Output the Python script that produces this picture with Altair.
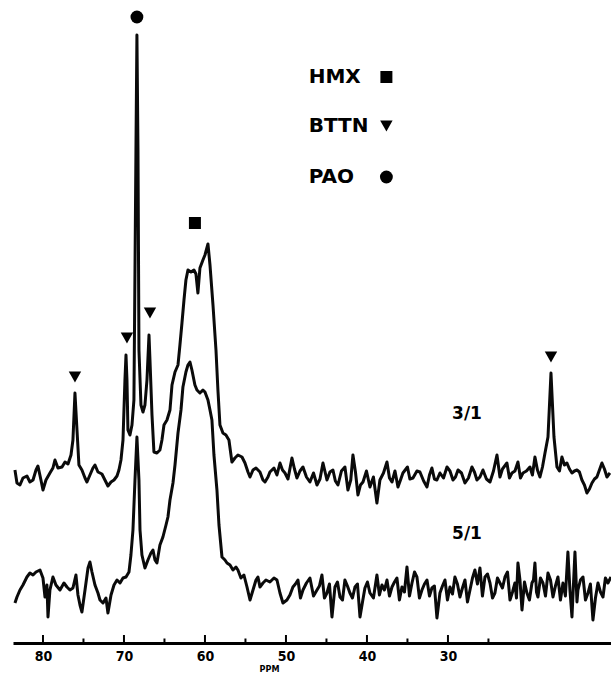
import altair as alt
import pandas as pd

# ---------------- data ----------------
# upper spectrum (3/1): chemical shift (ppm) and intensity relative to its baseline
UPPER_PPM = [83.46, 83.21, 82.84, 82.47, 81.98, 81.61, 81.23, 80.86, 80.62, 80.25, 80.00, 79.63, 79.14, 78.77,
             78.52, 78.15, 77.65, 77.28, 76.91, 76.54, 76.30, 76.05, 75.80, 75.56, 75.19, 74.81, 74.57, 74.20,
             73.83, 73.58, 73.21, 72.72, 72.35, 71.98, 71.60, 71.23, 70.86, 70.62, 70.37, 70.12, 69.88, 69.75,
             69.63, 69.51, 69.26, 69.01, 68.77, 68.52, 68.40, 68.27, 68.15, 67.90, 67.65, 67.41, 67.16, 66.91,
             66.79, 66.54, 66.30, 65.93, 65.56, 65.31, 65.06, 64.69, 64.32, 64.07, 63.70, 63.33, 63.09, 62.84,
             62.59, 62.35, 62.10, 61.73, 61.36, 61.11, 60.87, 60.62, 60.25, 60.00, 59.63, 59.38, 59.01, 58.64,
             58.40, 58.15, 57.78, 57.41, 57.04, 56.67, 56.30, 55.93, 55.43, 55.06, 54.69, 54.44, 54.07, 53.70,
             53.21, 52.84, 52.59, 51.98, 51.48, 50.74, 50.12, 49.26, 48.64, 47.90, 47.04, 46.17, 45.43, 44.94,
             44.20, 43.58, 42.72, 42.35, 41.73, 41.11, 40.49, 39.63, 38.77, 38.40, 37.53, 36.91, 36.17, 35.56,
             34.32, 33.46, 32.59, 31.98, 31.36, 30.99, 30.12, 29.38, 28.76, 27.90, 27.04, 26.42, 25.68, 24.81,
             23.95, 23.58, 22.72, 22.10, 21.36, 20.74, 19.88, 19.26, 18.64, 18.02, 17.65, 17.28, 16.91, 16.54,
             15.93, 15.31, 14.69, 14.07, 13.46, 12.84, 12.22, 11.61, 10.99, 10.37, 10.00,
             52.22, 51.11, 50.43, 49.75, 48.95, 48.27, 47.47, 46.60, 45.80, 44.57, 43.90, 43.15, 42.00, 41.42,
             40.80, 40.06, 39.20, 37.96, 37.22, 36.54, 35.86, 35.00, 34.70, 33.83, 33.00, 32.28, 31.67, 30.55,
             29.75, 29.07, 28.33, 27.47, 26.73, 26.05, 25.25, 24.38, 23.27, 22.41, 21.73, 21.05, 20.31, 19.57,
             18.95, 18.33, 16.23, 15.62, 15.00, 14.38, 13.77, 13.15, 12.53, 11.91, 11.30, 10.68]
UPPER_INT = [5, -8, -10, -3, -1, -7, -5, 5, 9, -5, -15, -5, 2, 7,
             15, 7, 8, 13, 11, 20, 35, 82, 45, 10, 5, -3, -7, 0,
             7, 10, 3, 1, -5, -11, -7, -5, -1, 5, 15, 35, 95, 120,
             95, 45, 40, 50, 75, 325, 440, 325, 125, 70, 63, 70, 95, 140,
             115, 60, 23, 22, 25, 35, 50, 55, 65, 90, 103, 110, 130, 152,
             175, 195, 205, 203, 205, 201, 182, 207, 215, 220, 231, 210, 170, 125,
             85, 50, 42, 40, 35, 13, 17, 20, 18, 12, 3, -2, 5, 7,
             3, -5, -7, 3, 7, 12, 2, 17, -3, 8, -7, -10, 12, -5,
             5, -10, 8, -15, 20, -20, -7, -12, -28, -5, 13, -7, -12, 2,
             -3, 3, -12, 7, -5, 2, 8, -5, 5, -8, 8, -5, 5, -7,
             20, -2, 12, 2, 13, 2, 8, 18, -2, 22, 38, 102, 38, 8,
             18, 12, 2, 5, -5, -18, -8, -2, 12, -2, 2,
             -2, 0, 5, -4, 6, 4, -2, 2, -4, 3, -6, 4, -5, 3,
             -10, 4, -2, 2, -3, 4, -5, 8, -4, 4, -6, 0, -4, -3,
             4, -2, 2, -3, 3, -2, -4, 4, 6, -3, 4, -3, 4, 0,
             5, 8, 4, 10, 6, 4, 3, -10, -14, -4, 5, 6]

# lower spectrum (5/1)
LOWER_PPM = [83.46, 83.21, 82.84, 82.47, 81.98, 81.61, 81.23, 80.86, 80.37, 80.00, 79.75, 79.51, 79.38, 79.14,
             78.77, 78.40, 77.90, 77.41, 77.04, 76.67, 76.30, 75.93, 75.68, 75.43, 75.19, 74.81, 74.44, 74.20,
             73.95, 73.58, 73.21, 72.96, 72.59, 72.22, 71.98, 71.60, 71.23, 70.86, 70.49, 70.12, 69.75, 69.38,
             69.14, 68.89, 68.64, 68.40, 68.15, 68.02, 67.78, 67.41, 67.04, 66.67, 66.42, 66.17, 65.93, 65.56,
             65.19, 64.81, 64.57, 64.32, 63.95, 63.70, 63.33, 62.96, 62.72, 62.35, 62.10, 61.85, 61.61, 61.24,
             60.99, 60.62, 60.25, 60.00, 59.63, 59.38, 59.14, 58.89, 58.52, 58.27, 57.90, 57.53, 57.28, 56.91,
             56.54, 56.17, 55.93, 55.56, 55.19, 54.81, 54.44, 54.07, 53.70, 53.46, 53.21, 52.84, 52.47, 51.98,
             51.48, 51.11, 50.74, 50.37, 49.88, 49.14, 48.52, 47.90, 47.04, 46.17, 45.56, 44.94, 44.32, 43.95,
             43.33, 42.72, 42.10, 41.48, 40.86, 40.25, 39.63, 38.77, 38.15, 37.53, 36.91, 36.30, 35.68, 35.06,
             34.44, 33.83, 33.21, 32.59, 31.98, 31.36, 30.99, 30.37, 29.75, 29.14, 28.52, 27.90, 27.28, 26.67,
             26.05, 25.43, 24.81, 24.20, 23.58, 22.96, 22.34, 21.73, 21.36, 20.86, 20.25, 19.63, 19.26, 18.89,
             18.27, 17.65, 17.03, 16.42, 15.80, 15.19, 14.94, 14.69, 14.32, 13.95, 13.33, 12.71, 12.10, 11.48,
             10.86, 10.25, 9.87,
             49.51, 48.83, 48.21, 47.47, 46.60, 45.87, 45.25, 44.63, 43.64, 43.02, 42.41, 41.79, 41.17, 40.55,
             39.94, 39.20, 38.46, 37.84, 37.22, 36.60, 35.99, 35.37, 34.75, 34.13, 33.52, 32.90, 32.28, 31.67,
             30.68, 30.06, 29.44, 28.83, 28.21, 27.59, 26.97, 26.36, 25.74, 25.12, 24.50, 23.89, 23.27, 22.65,
             22.03, 21.54, 21.11, 20.55, 19.94, 19.44, 19.07, 18.58, 17.96, 17.34, 16.73, 16.11, 15.50, 14.07,
             13.64, 13.02, 12.41, 11.79, 11.17, 10.56]
LOWER_INT = [-11, -5, 2, 7, 15, 19, 17, 20, 22, 14, -5, 7, -25, 2,
             15, 7, 2, 9, 5, 2, 4, 17, -3, -13, -20, 2, 24, 30,
             20, 7, -1, -8, -11, -6, -21, -3, 7, 12, 9, 14, 15, 20,
             37, 62, 112, 155, 112, 62, 37, 24, 32, 39, 42, 32, 29, 47,
             55, 67, 75, 92, 109, 127, 159, 182, 205, 220, 227, 230, 222, 207,
             202, 199, 202, 200, 192, 182, 172, 137, 102, 67, 35, 32, 29, 27,
             22, 25, 22, 14, 17, 5, -8, 2, 12, 15, 5, 9, 12, 10,
             14, 12, -1, -11, -8, 5, 12, 2, 14, 2, 17, -1, -25, 5,
             -5, 12, -1, 5, -25, 4, -1, 17, 7, 12, 5, 14, 5, 25,
             9, 15, 2, 12, 4, -26, -1, 12, 5, 15, -5, 12, 2, 22,
             24, 15, 9, -1, 9, 15, -8, 9, 29, -18, -1, 9, 29, -5,
             9, 19, -5, 15, 9, 40, 2, -25, 40, 2, 15, -1, -28, 9,
             -5, 9, 15,
             -3, 8, -6, 9, -4, 6, -6, 8, 10, -8, 6, -6, 8, -10,
             10, -6, -3, 2, -4, 10, -8, 0, -4, 20, -6, 8, -4, 6,
             6, -8, -2, 8, 4, -10, 14, 8, -4, 18, -6, 14, 4, 20,
             0, -6, 12, 10, -8, 12, 0, 14, -4, 12, 6, -8, -4, -10,
             12, -8, 8, -6, 0, 14]

TRACE_NAMES = ["3/1", "5/1"]

# assigned peaks
PEAK_PPM = [68.40, 61.24, 76.05, 69.63, 66.79, 17.28]
PEAK_COMPOUND = ["PAO", "HMX", "BTTN", "BTTN", "BTTN", "BTTN"]

LEGEND_ITEMS = ["HMX", "BTTN", "PAO"]
MAJOR_TICKS = [80, 70, 60, 50, 40, 30]
MINOR_TICKS = [75, 65, 55, 45, 35, 25]

# ---------------- layout constants ----------------
UPPER_OFFSET = 168
LOWER_OFFSET = 51
PEAK_LEVEL = [626, 420, 266, 305, 330, 286]
LEGEND_LEVEL = [566, 517, 466]
LEGEND_TEXT_PPM = 47.2
LEGEND_MARK_PPM = 37.6
TRACE_LABEL_PPM = 27.65
TRACE_LABEL_LEVEL = [229, 109]
TICK_LEN_MAJOR = 8.0
TICK_LEN_MINOR = 4.5

W, H = 598, 643
NARROW = "Liberation Sans Narrow, DejaVu Sans Condensed, Arial Narrow, sans-serif"

up = pd.DataFrame({"ppm": UPPER_PPM, "v": UPPER_INT}).sort_values("ppm")
up["h"] = up["v"] + UPPER_OFFSET
lo = pd.DataFrame({"ppm": LOWER_PPM, "v": LOWER_INT}).sort_values("ppm")
lo["h"] = lo["v"] + LOWER_OFFSET

peaks = pd.DataFrame({"ppm": PEAK_PPM, "h": PEAK_LEVEL, "c": PEAK_COMPOUND})
legend = pd.DataFrame({"c": LEGEND_ITEMS, "h": LEGEND_LEVEL,
                       "tx": [LEGEND_TEXT_PPM] * 3, "mx": [LEGEND_MARK_PPM] * 3})
labels = pd.DataFrame({"t": TRACE_NAMES, "ppm": [TRACE_LABEL_PPM] * 2, "h": TRACE_LABEL_LEVEL})
ticks = pd.DataFrame({"ppm": [float(t) for t in MAJOR_TICKS + MINOR_TICKS],
                      "h": [0.0] * 12,
                      "top": [TICK_LEN_MAJOR] * 6 + [TICK_LEN_MINOR] * 6})

xscale = alt.Scale(domain=[9.87, 83.7], reverse=True, nice=False, zero=False)
yscale = alt.Scale(domain=[0, H], nice=False, zero=False)
xaxis = alt.Axis(values=MAJOR_TICKS, ticks=False, grid=False, domainColor="black", domainWidth=3,
                 labelFont=NARROW, labelFontSize=14, labelFontWeight="bold", labelColor="black",
                 labelPadding=6, labelFlush=False, title="PPM", titleFont=NARROW, titleFontSize=9,
                 titleFontWeight="bold", titleColor="black", titleX=256, titleY=21,
                 titleBaseline="top", titleAlign="center")

X = alt.X("ppm:Q", scale=xscale, axis=xaxis)
Y = alt.Y("h:Q", scale=yscale, axis=None)

shape_scale = alt.Scale(domain=["HMX", "BTTN", "PAO"], range=["square", "triangle-down", "circle"])

l_up = alt.Chart(up).mark_line(color="#0a0a0a", strokeWidth=3, strokeJoin="round").encode(x=X, y=Y)
l_lo = alt.Chart(lo).mark_line(color="#0a0a0a", strokeWidth=3, strokeJoin="round").encode(x=X, y=Y)

pk = alt.Chart(peaks).mark_point(filled=True, color="black", opacity=1).encode(
    x=X, y=Y,
    shape=alt.Shape("c:N", scale=shape_scale, legend=None),
    size=alt.Size("c:N", scale=alt.Scale(domain=["HMX", "BTTN", "PAO"], range=[144, 165, 170]), legend=None),
)

tk = alt.Chart(ticks).mark_rule(color="black", strokeWidth=2, opacity=1).encode(
    x=X, y=Y, y2=alt.Y2("top:Q"))

lab = alt.Chart(labels).mark_text(font="DejaVu Sans", fontSize=17, fontWeight="bold",
                                  color="black", baseline="middle").encode(x=X, y=Y, text="t:N")

leg_t = alt.Chart(legend).mark_text(font="DejaVu Sans", fontSize=20, fontWeight="bold", color="black",
                                    align="left", baseline="middle").encode(
    x=alt.X("tx:Q", scale=xscale, axis=xaxis), y=Y, text="c:N")
leg_m = alt.Chart(legend).mark_point(filled=True, color="black", opacity=1).encode(
    x=alt.X("mx:Q", scale=xscale, axis=xaxis), y=Y,
    shape=alt.Shape("c:N", scale=shape_scale, legend=None),
    size=alt.Size("c:N", scale=alt.Scale(domain=["HMX", "BTTN", "PAO"], range=[130, 100, 100]), legend=None),
)

chart = alt.layer(l_up, l_lo, pk, tk, lab, leg_t, leg_m).properties(
    width=W, height=H,
    padding={"left": 13, "top": 0, "right": 0, "bottom": 31},
    autosize=alt.AutoSizeParams(type="none"),
    background="white",
).configure_view(stroke=None)

chart.save("out.html", embed_options={"renderer": "svg", "actions": False})
